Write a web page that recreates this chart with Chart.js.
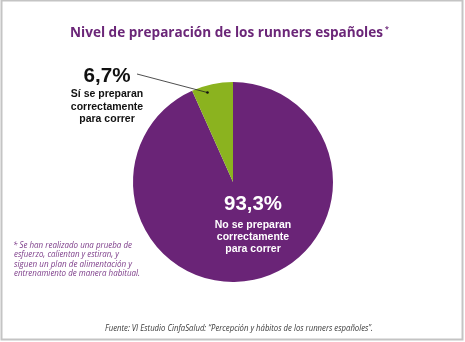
<!DOCTYPE html>
<html>
<head>
<meta charset="utf-8">
<script src="https://cdn.jsdelivr.net/npm/chart.js@4"></script>
<style>
  html, body { margin: 0; padding: 0; background: #fff; }
</style>
</head>
<body>
<canvas id="myChart" width="465" height="342"></canvas>
<script>
// data
const labels = ['No se preparan correctamente para correr', 'Sí se preparan correctamente para correr'];
const values = [93.3, 6.7];
const valueLabels = ['93,3%', '6,7%'];
const labelLines = [
  ['No se preparan', 'correctamente', 'para correr'],
  ['Sí se preparan', 'correctamente', 'para correr'],
];
const titleText = 'Nivel de preparación de los runners españoles';
const noteLines = [
  '* Se han realizado una prueba de',
  'esfuerzo, calientan y estiran, y',
  'siguen un plan de alimentación y',
  'entrenamiento de manera habitual.',
];
const sourceText = 'Fuente: VI Estudio CinfaSalud: “Percepción y hábitos de los runners españoles”.';

const purple = '#6a2477';
const green = '#8bb31f';

// draw text squeezed/stretched to a given width
function fitText(ctx, text, x, y, width, align) {
  const w = ctx.measureText(text).width;
  const s = width / w;
  ctx.save();
  let left = x;
  if (align === 'center') left = x - width / 2;
  ctx.translate(left, y);
  ctx.scale(s, 1);
  ctx.textAlign = 'left';
  ctx.fillText(text, 0, 0);
  ctx.restore();
}

const decor = {
  id: 'decor',
  afterDraw(chart) {
    const ctx = chart.ctx;
    const meta = chart.getDatasetMeta(0);
    const big = meta.data[0];
    const small = meta.data[1];
    const cx = big.x, cy = big.y, r = big.outerRadius;

    ctx.save();
    // frame
    ctx.strokeStyle = '#c4c4c4';
    ctx.lineWidth = 2;
    ctx.strokeRect(1.5, 0.5, 461, 339);

    // title
    ctx.fillStyle = '#6b2678';
    ctx.textBaseline = 'alphabetic';
    ctx.font = 'bold 15px "Open Sans"';
    fitText(ctx, titleText, 70, 37, 313, 'left');
    ctx.font = 'bold 7px "Open Sans"';
    ctx.fillText('*', 385, 31);

    // big slice label (inside, white)
    ctx.fillStyle = '#ffffff';
    ctx.font = 'bold 20px "Liberation Sans"';
    fitText(ctx, valueLabels[0], cx + 0.2 * r, cy + 0.28 * r, 58, 'center');
    ctx.font = 'bold 10.5px "Liberation Sans"';
    ctx.textAlign = 'center';
    labelLines[0].forEach((t, i) => {
      ctx.fillText(t, cx + 0.2 * r, cy + 0.46 * r + i * 12);
    });

    // small slice label (outside, black) with leader line
    const lx = cx - 1.26 * r;
    ctx.fillStyle = '#111111';
    ctx.font = 'bold 20px "Liberation Sans"';
    fitText(ctx, valueLabels[1], lx, cy - 1.0 * r, 47, 'center');
    ctx.font = 'bold 10.5px "Liberation Sans"';
    ctx.textAlign = 'center';
    labelLines[1].forEach((t, i) => {
      ctx.fillText(t, lx, cy - 0.85 * r + i * 12.5);
    });
    const a = small.startAngle + 0.34 * (small.endAngle - small.startAngle);
    const px = cx + Math.cos(a) * 0.93 * r;
    const py = cy + Math.sin(a) * 0.93 * r;
    ctx.strokeStyle = '#222222';
    ctx.lineWidth = 0.8;
    ctx.beginPath();
    ctx.moveTo(lx + 30, cy - 1.08 * r);
    ctx.lineTo(px, py);
    ctx.stroke();
    ctx.fillStyle = '#111111';
    ctx.beginPath();
    ctx.arc(px, py, 1.3, 0, Math.PI * 2);
    ctx.fill();

    // footnote
    ctx.fillStyle = '#7b3a88';
    ctx.font = 'italic 8.5px "Open Sans"';
    ctx.textAlign = 'left';
    const noteW = [119, 105, 118, 126];
    noteLines.forEach((t, i) => {
      fitText(ctx, t, i === 0 ? 13 : 14, 248 + i * 9.3, noteW[i], 'left');
    });

    // source
    ctx.fillStyle = '#3a3a3a';
    ctx.font = 'italic 8.5px "Open Sans"';
    fitText(ctx, sourceText, 105, 331, 268, 'left');
    ctx.restore();
  }
};

const config = {
  type: 'pie',
  data: {
    labels,
    datasets: [{
      data: values,
      backgroundColor: [purple, green],
      borderWidth: 0,
    }],
  },
  options: {
    responsive: false,
    animation: false,
    devicePixelRatio: 1,
    rotation: 0,
    layout: { padding: { top: 82, bottom: 60, left: 133, right: 132 } },
    plugins: {
      legend: { display: false },
      tooltip: { enabled: false },
      title: { display: false },
    },
  },
  plugins: [decor],
};

const ctx = document.getElementById('myChart').getContext('2d');
const myChart = new Chart(ctx, config);
</script>
</body>
</html>
